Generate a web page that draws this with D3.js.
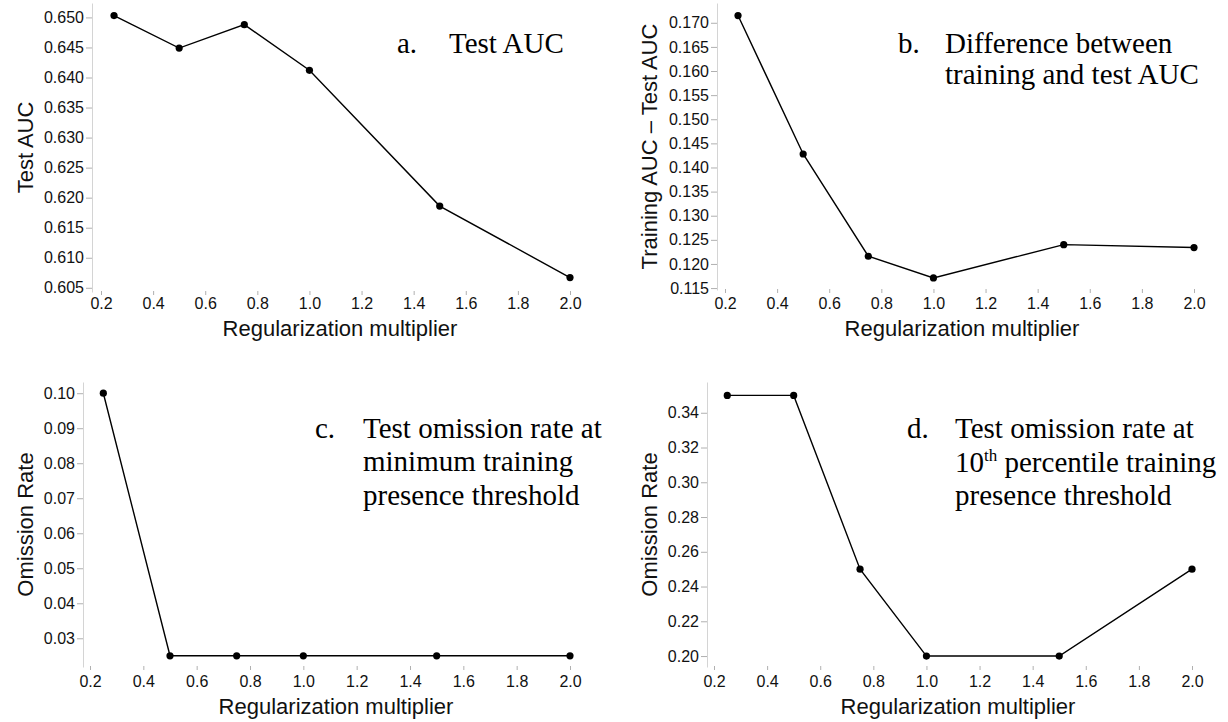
<!DOCTYPE html>
<html>
<head>
<meta charset="utf-8">
<script src="https://cdn.jsdelivr.net/npm/d3@7"></script>
<style>
  html, body { margin: 0; padding: 0; background: #fff; }
  svg { display: block; }
  .tick text { font-family: "Liberation Sans", Arial, Helvetica, sans-serif; font-size: 16px; fill: #111; }
  .ttl { font-family: "Liberation Sans", Arial, Helvetica, sans-serif; font-size: 22px; fill: #111; }
  .ann { font-family: "Liberation Serif", "Times New Roman", Times, serif; font-size: 29px; fill: #000; }
</style>
</head>
<body>
<svg id="chart" width="1228" height="722"></svg>
<script>
// ---- data ----
const regMultiplier = [0.25, 0.5, 0.75, 1.0, 1.5, 2.0];
const testAUC       = [0.6503, 0.6449, 0.6488, 0.6412, 0.6186, 0.6067];
const aucDifference = [0.1715, 0.1428, 0.1216, 0.1171, 0.1240, 0.1234];
const omissionMinTP = [0.100, 0.025, 0.025, 0.025, 0.025, 0.025];
const omission10TP  = [0.35, 0.35, 0.25, 0.20, 0.20, 0.25];

const xTicks  = [0.2, 0.4, 0.6, 0.8, 1.0, 1.2, 1.4, 1.6, 1.8, 2.0];
const yTicksA = [0.605, 0.610, 0.615, 0.620, 0.625, 0.630, 0.635, 0.640, 0.645, 0.650];
const yTicksB = [0.115, 0.120, 0.125, 0.130, 0.135, 0.140, 0.145, 0.150, 0.155, 0.160, 0.165, 0.170];
const yTicksC = [0.03, 0.04, 0.05, 0.06, 0.07, 0.08, 0.09, 0.10];
const yTicksD = [0.20, 0.22, 0.24, 0.26, 0.28, 0.30, 0.32, 0.34];

const xTitle  = "Regularization multiplier";
const yTitles = ["Test AUC", "Training AUC \u2013 Test AUC", "Omission Rate", "Omission Rate"];
const letters = ["a.", "b.", "c.", "d."];
const annA = ["Test AUC"];
const annB = ["Difference between", "training and test AUC"];
const annC = ["Test omission rate at", "minimum training", "presence threshold"];

// ---- layout ----
const svg = d3.select("#chart");

const panels = [
  { values: testAUC, yTicks: yTicksA, fmt: ".3f", title: yTitles[0],
    axisX: 92, xr: [101, 570], yd: [0.6043, 0.6524], yr: [292, 3],
    xTickBase: 309, xTitleY: 336, xTitleX: 340, yTitleX: 33,
    letter: letters[0], letterX: 397, annX: 449, annY: [53], ann: annA },
  { values: aucDifference, yTicks: yTicksB, fmt: ".3f", title: yTitles[1],
    axisX: 717, xr: [725, 1194], yd: [0.1146, 0.1741], yr: [290, 3],
    xTickBase: 309, xTitleY: 336, xTitleX: 962, yTitleX: 657,
    letter: letters[1], letterX: 898, annX: 945, annY: [53, 84], ann: annB },
  { values: omissionMinTP, yTicks: yTicksC, fmt: ".2f", title: yTitles[2],
    axisX: 83, xr: [90, 570], yd: [0.0218, 0.1032], yr: [667, 382],
    xTickBase: 687, xTitleY: 714, xTitleX: 336, yTitleX: 33,
    letter: letters[2], letterX: 315, annX: 363, annY: [438, 471, 505], ann: annC },
  { values: omission10TP, yTicks: yTicksD, fmt: ".2f", title: yTitles[3],
    axisX: 707, xr: [714, 1192], yd: [0.1937, 0.3577], yr: [667, 382],
    xTickBase: 687, xTitleY: 714, xTitleX: 958, yTitleX: 657,
    letter: letters[3], letterX: 907, annX: 955, annY: [438, 472, 505], ann: null }
];

panels.forEach((p, i) => {
  const x = d3.scaleLinear().domain([0.2, 2.0]).range(p.xr);
  const y = d3.scaleLinear().domain(p.yd).range(p.yr);
  const g = svg.append("g");

  // y axis
  const ya = g.append("g").attr("transform", `translate(${p.axisX},0)`)
    .call(d3.axisLeft(y).tickValues(p.yTicks).tickFormat(d3.format(p.fmt))
      .tickSizeInner(6).tickSizeOuter(0).tickPadding(2));
  ya.select(".domain").attr("stroke", "#d4d4d4").attr("stroke-width", 1);
  ya.selectAll(".tick line").attr("stroke", "#b0b0b0");

  // x axis (ticks + labels, no domain line)
  const xBottom = p.yr[0] - 1;
  const xa = g.append("g").attr("transform", `translate(0,${xBottom})`)
    .call(d3.axisBottom(x).tickValues(xTicks).tickFormat(d3.format(".1f"))
      .tickSizeInner(4).tickSizeOuter(0));
  xa.select(".domain").remove();
  xa.selectAll(".tick line").attr("stroke", "#b0b0b0");
  xa.selectAll(".tick text").attr("y", p.xTickBase - xBottom).attr("dy", null);

  // axis titles
  g.append("text").attr("class", "ttl")
    .attr("x", p.xTitleX).attr("y", p.xTitleY)
    .attr("text-anchor", "middle").text(xTitle);
  const ymid = (p.yr[0] + p.yr[1]) / 2;
  g.append("text").attr("class", "ttl")
    .attr("transform", `translate(${p.yTitleX},${ymid}) rotate(-90)`)
    .attr("text-anchor", "middle").text(p.title);

  // line + points
  const pts = regMultiplier.map((r, k) => [r, p.values[k]]);
  g.append("path").datum(pts)
    .attr("fill", "none").attr("stroke", "#000").attr("stroke-width", 1.4)
    .attr("d", d3.line().x(d => x(d[0])).y(d => y(d[1])));
  g.selectAll("circle.pt").data(pts).join("circle")
    .attr("class", "pt")
    .attr("cx", d => x(d[0])).attr("cy", d => y(d[1])).attr("r", 3.6)
    .attr("fill", "#000");

  // annotation
  g.append("text").attr("class", "ann").attr("x", p.letterX).attr("y", p.annY[0]).text(p.letter);
  if (p.ann) {
    p.ann.forEach((line, k) => {
      g.append("text").attr("class", "ann").attr("x", p.annX).attr("y", p.annY[k]).text(line);
    });
  } else {
    g.append("text").attr("class", "ann").attr("x", p.annX).attr("y", p.annY[0]).text("Test omission rate at");
    const t2 = g.append("text").attr("class", "ann").attr("x", p.annX).attr("y", p.annY[1]);
    t2.append("tspan").text("10");
    t2.append("tspan").attr("font-size", "17px").attr("dy", -11).text("th");
    t2.append("tspan").attr("dy", 11).text(" percentile training");
    g.append("text").attr("class", "ann").attr("x", p.annX).attr("y", p.annY[2]).text("presence threshold");
  }
});
</script>
</body>
</html>
